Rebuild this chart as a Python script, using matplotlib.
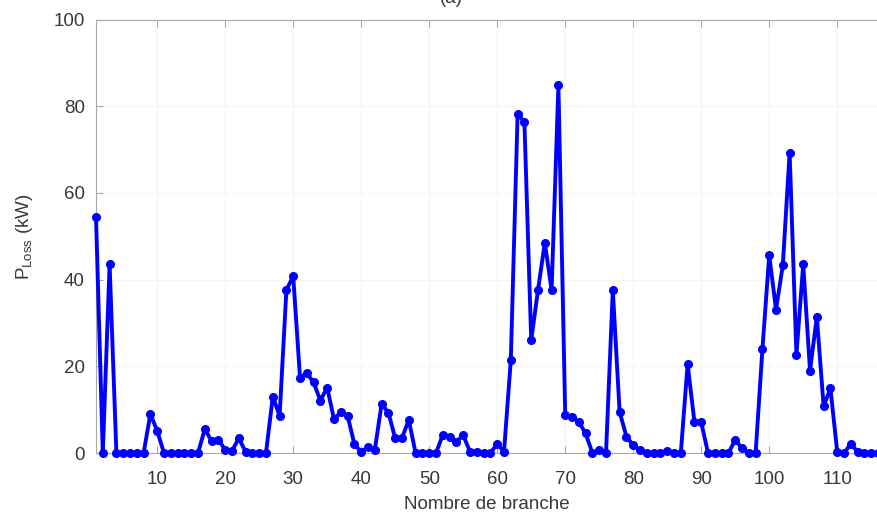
import matplotlib.pyplot as plt

plt.rcParams['font.family'] = ['Liberation Sans', 'DejaVu Sans']

# Pertes actives par branche (kW)
branches = list(range(1, 117))
pertes = [
    54.5, 0, 43.5, 0, 0, 0, 0, 0, 9.0, 5.1,
    0, 0, 0, 0, 0, 0, 5.5, 2.8, 3.1, 0.7,
    0.5, 3.4, 0.3, 0, 0, 0, 13.0, 8.6, 37.6, 40.8,
    17.4, 18.4, 16.3, 12.1, 15.1, 7.8, 9.4, 8.6, 2.0, 0.3,
    1.3, 0.7, 11.3, 9.3, 3.4, 3.5, 7.6, 0, 0, 0,
    0, 4.2, 3.8, 2.6, 4.1, 0.3, 0.3, 0, 0, 2.1,
    0.3, 21.4, 78.3, 76.3, 26.0, 37.6, 48.5, 37.6, 84.8, 8.8,
    8.4, 7.2, 4.5, 0, 0.7, 0, 37.5, 9.5, 3.8, 1.8,
    0.6, 0, 0, 0, 0.5, 0, 0, 20.5, 7.2, 7.1,
    0, 0, 0, 0, 3.0, 1.1, 0, 0, 23.9, 45.6,
    33.1, 43.3, 69.3, 22.7, 43.5, 19.0, 31.4, 10.8, 14.9, 0.3,
    0, 2.1, 0.3, 0, 0, 0,
]
xticks = [10, 20, 30, 40, 50, 60, 70, 80, 90, 100, 110]
yticks = [0, 20, 40, 60, 80, 100]

texte = '#383838'
axe = '#a8a8a8'

fig = plt.figure(figsize=(8.77, 5.23), dpi=100)
ax = fig.add_axes([96 / 877, 70 / 523, 1 - 96 / 877, 433.5 / 523])

ax.plot(branches, pertes, color='#0000ff', linewidth=2.8,
        marker='o', markersize=5.5, clip_on=False, zorder=3)

ax.set_xlim(1, 115.85)
ax.set_ylim(0, 100)
ax.set_xticks(xticks)
ax.set_yticks(yticks)
ax.grid(True, color='#f4f4f4', linewidth=0.8)
ax.set_axisbelow(True)

for cote in ['left', 'bottom', 'top']:
    ax.spines[cote].set_color(axe)
    ax.spines[cote].set_linewidth(0.8)
ax.spines['right'].set_visible(False)

ax.tick_params(direction='in', length=5, width=0.8, color=axe,
               labelcolor=texte, labelsize=13.5, top=True)
ax.tick_params(axis='x', pad=13)
ax.tick_params(axis='y', pad=8)

ax.set_xlabel('Nombre de branche', fontsize=13.5, color=texte, labelpad=6)
ax.set_ylabel(r'P$_{\mathregular{Loss}}$ (kW)', fontsize=13.5, color=texte,
              labelpad=13)

fig.text(451 / 877, 1 - 3 / 523, '(a)', ha='center', va='baseline',
         fontsize=13.5, color=texte)

fig.savefig('out.png', dpi=100)
